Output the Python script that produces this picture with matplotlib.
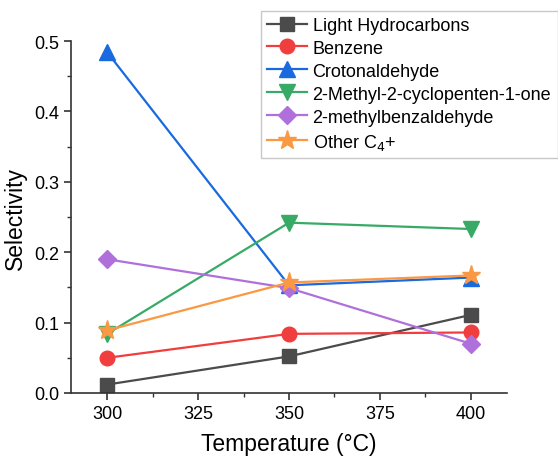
import matplotlib

matplotlib.use("Agg")

import matplotlib.pyplot as plt
from matplotlib.ticker import MultipleLocator

plt.rcParams["font.family"] = ["Liberation Sans", "DejaVu Sans"]

temperature = [300, 350, 400]
light_hydrocarbons = [0.012, 0.052, 0.111]
benzene = [0.050, 0.084, 0.086]
crotonaldehyde = [0.484, 0.153, 0.164]
methyl_cyclopentenone = [0.084, 0.242, 0.233]
methylbenzaldehyde = [0.190, 0.149, 0.070]
other_c4 = [0.089, 0.157, 0.167]

series = [
    ("Light Hydrocarbons", light_hydrocarbons, "#4b4b4b", "s", 9.5),
    ("Benzene", benzene, "#f03e3e", "o", 10.5),
    ("Crotonaldehyde", crotonaldehyde, "#1a6adf", "^", 11),
    ("2-Methyl-2-cyclopenten-1-one", methyl_cyclopentenone, "#37ab66", "v", 11),
    ("2-methylbenzaldehyde", methylbenzaldehyde, "#b070dc", "D", 9),
    ("Other C$_4$+", other_c4, "#fa9843", "*", 14),
]

fig = plt.figure(figsize=(5.58, 4.6), dpi=100)
ax = fig.add_axes([0.127, 0.1435, 0.782, 0.765])

for label, values, color, marker, size in series:
    ax.plot(temperature, values, color=color, marker=marker, markersize=size,
            linewidth=1.6, label=label)

ax.set_xlim(290, 410)
ax.set_ylim(0, 0.5)
ax.xaxis.set_major_locator(MultipleLocator(25))
ax.xaxis.set_minor_locator(MultipleLocator(12.5))
ax.yaxis.set_minor_locator(MultipleLocator(0.05))
ax.set_yticks([0, 0.1, 0.2, 0.3, 0.4, 0.5])
ax.set_yticklabels(["0.0", "0.1", "0.2", "0.3", "0.4", "0.5"])
ax.tick_params(which="major", direction="out", length=5, width=1.2, labelsize=13, color="#333333")
ax.tick_params(which="minor", direction="out", length=3, width=1.0, color="#333333")

for side in ("top", "right"):
    ax.spines[side].set_visible(False)
for side in ("left", "bottom"):
    ax.spines[side].set_linewidth(1.2)
    ax.spines[side].set_color("#333333")

ax.set_xlabel("Temperature (°C)", fontsize=16.5, labelpad=7)
ax.set_ylabel("Selectivity", fontsize=16.5, labelpad=5)

ax.legend(loc="upper left", bbox_to_anchor=(0.468, 0.975), bbox_transform=fig.transFigure,
          fontsize=13, frameon=True, fancybox=False, edgecolor="#bbbbbb",
          handlelength=2.2, handletextpad=0.3, labelspacing=0.33, borderpad=0.35,
          borderaxespad=0)

fig.savefig("out.png", dpi=100)
